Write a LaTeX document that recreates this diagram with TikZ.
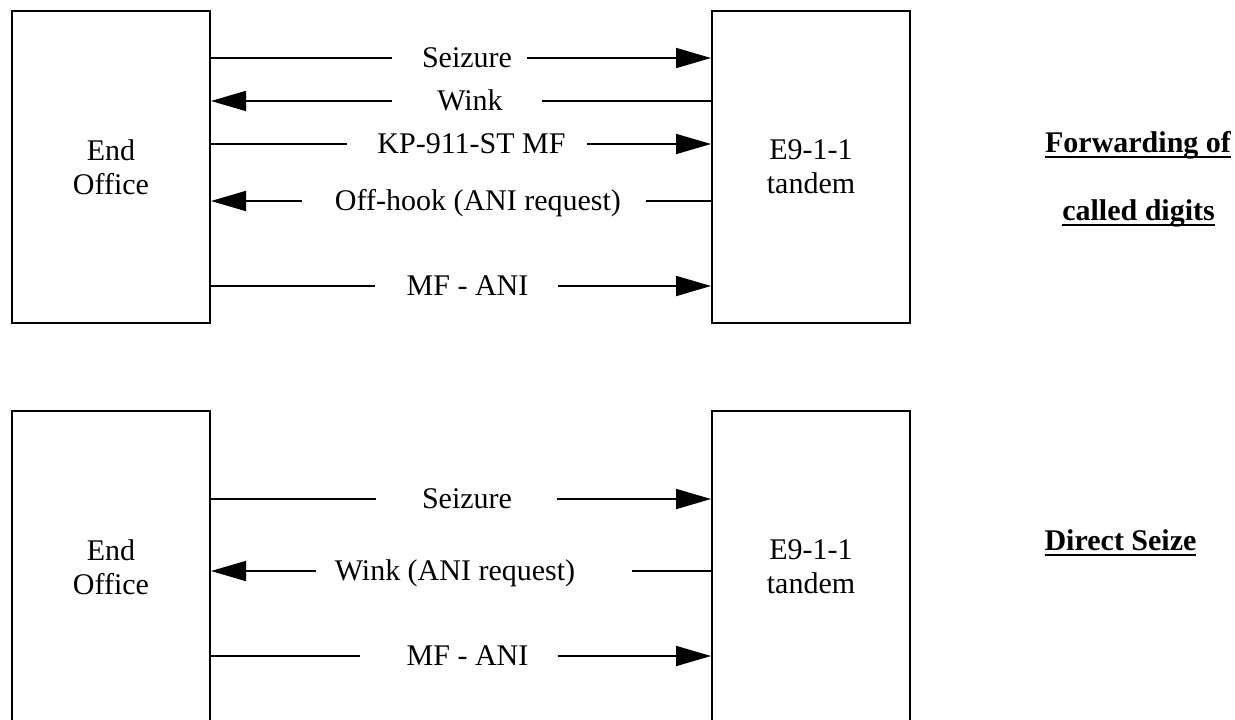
\documentclass[tikz,border=0pt]{standalone}
\usepackage{fontspec}
\setmainfont{Liberation Serif}
\usepackage{tikz}
\usetikzlibrary{arrows.meta, positioning}
\tikzstyle{office} = [rectangle, draw=black, line width=1pt, minimum width=99pt, minimum height=156pt, text centered]
\tikzstyle{signal} = [inner sep=0pt, text height=9.6pt, text depth=0pt]
\tikzstyle{wire} = [line width=0.9pt]
\tikzstyle{arrow} = [line width=0.9pt, -{Triangle[length=17.5pt, width=10pt]}]
\tikzstyle{caption} = [anchor=base, inner sep=0pt, font=\fontsize{15}{17}\selectfont\bfseries]
\tikzset{every node/.style={align=center, font=\fontsize{15}{17}\selectfont}}
\newcommand{\ulbold}[1]{\setbox0\hbox{#1}\rlap{\rule[-3.1pt]{\wd0}{1.25pt}}\box0}

\begin{document}
\begin{tikzpicture}[x=0.5pt, y=-0.5pt]
    \clip (0,0) rectangle (1235,719);

    % forwarding of called digits
    \node (eo1) [office] at (111,167) {End\\Office};
    \node (tdm1) [office, right=250pt of eo1] {E9-1-1\\tandem};

    \node (sz1) [signal] at (467,58) {Seizure};
    \node (wk1) [signal] at (470,101) {Wink};
    \node (kp1) [signal] at (471.5,144) {KP-911-ST MF};
    \node (oh1) [signal] at (478,201) {Off-hook (ANI request)};
    \node (ani1) [signal] at (467.5,286) {MF - ANI};

    \draw [wire] (eo1.east |- sz1) -- ([xshift=-15pt]sz1.west);
    \draw [arrow] ([xshift=7.5pt]sz1.east) -- (sz1 -| tdm1.west);
    \draw [wire] (tdm1.west |- wk1) -- ([xshift=19.5pt]wk1.east);
    \draw [arrow] ([xshift=-22.5pt]wk1.west) -- (wk1 -| eo1.east);
    \draw [wire] (eo1.east |- kp1) -- ([xshift=-15pt]kp1.west);
    \draw [arrow] ([xshift=10.5pt]kp1.east) -- (kp1 -| tdm1.west);
    \draw [wire] (tdm1.west |- oh1) -- ([xshift=12.5pt]oh1.east);
    \draw [arrow] ([xshift=-16.5pt]oh1.west) -- (oh1 -| eo1.east);
    \draw [wire] (eo1.east |- ani1) -- ([xshift=-15.5pt]ani1.west);
    \draw [arrow] ([xshift=14.5pt]ani1.east) -- (ani1 -| tdm1.west);

    \node (fwd) [caption] at (1138,152) {\ulbold{Forwarding of}};
    \node (dig) [caption] at (1138.5,220) {\ulbold{called digits}};

    % direct seize
    \node (eo2) [office, below=43pt of eo1] {End\\Office};
    \node (tdm2) [office, right=250pt of eo2] {E9-1-1\\tandem};

    \node (sz2) [signal] at (467,499) {Seizure};
    \node (wk2) [signal] at (455,571) {Wink (ANI request)};
    \node (ani2) [signal] at (467.5,656) {MF - ANI};

    \draw [wire] (eo2.east |- sz2) -- ([xshift=-23pt]sz2.west);
    \draw [arrow] ([xshift=22.5pt]sz2.east) -- (sz2 -| tdm2.west);
    \draw [wire] (tdm2.west |- wk2) -- ([xshift=28pt]wk2.east);
    \draw [arrow] ([xshift=-9pt]wk2.west) -- (wk2 -| eo2.east);
    \draw [wire] (eo2.east |- ani2) -- ([xshift=-23pt]ani2.west);
    \draw [arrow] ([xshift=14.5pt]ani2.east) -- (ani2 -| tdm2.west);

    \node (ds) [caption] at (1120.5,550) {\ulbold{Direct Seize}};
\end{tikzpicture}
\end{document}
